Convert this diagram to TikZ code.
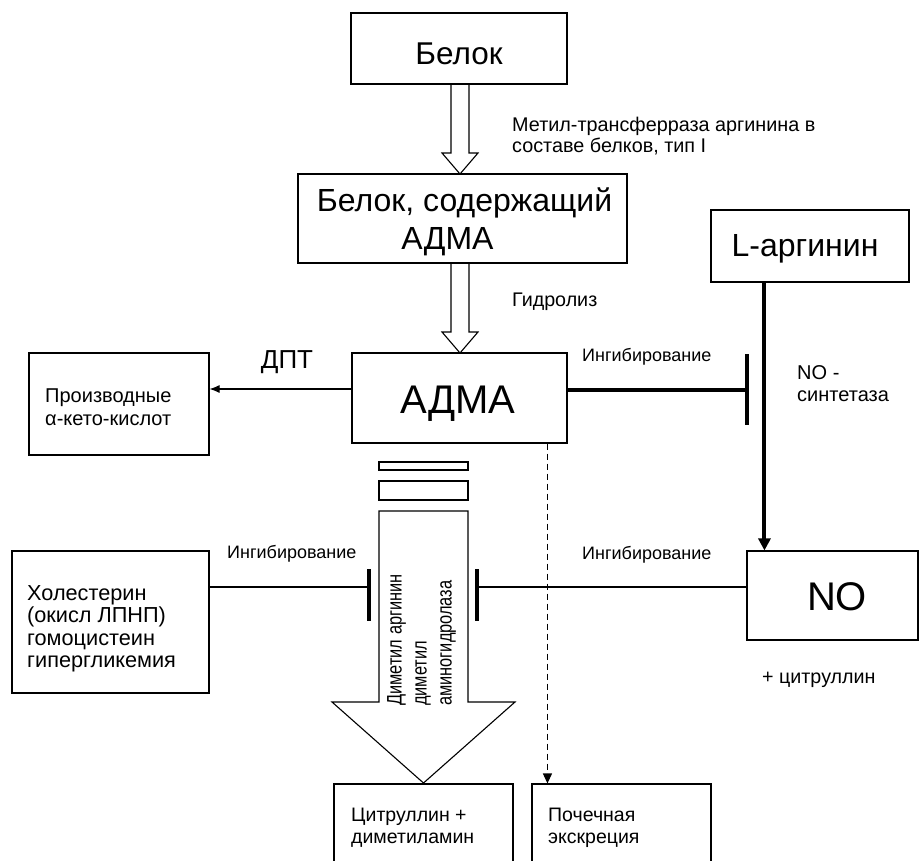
\documentclass[tikz,border=0pt]{standalone}
\usepackage{fontspec}
\setmainfont{Liberation Sans}
\newfontfamily\vertfont[FakeStretch=0.78]{Liberation Sans}
\usetikzlibrary{arrows.meta,calc}
\newcommand\myfs[2]{\fontsize{#1}{#2}\selectfont}
\begin{document}
\begin{tikzpicture}[x=1pt,y=-1pt,
  box/.style={draw, line width=1.1pt, inner sep=0pt, text depth=0pt},
  lbl/.style={inner sep=0pt, align=left, anchor=west, text depth=0pt},
  captext/.style={inner sep=0pt, text depth=0pt},
  thinline/.style={line width=1.1pt},
  barline/.style={line width=4pt},
  smalltext/.style={font=\myfs{19.8}{20.5}},
  tinytext/.style={font=\myfs{18}{20}}]
\useasboundingbox (0,0) rectangle (920,861);
\clip (0,0) rectangle (920,861);

% boxes
\node[box, minimum width=216pt, minimum height=71pt] (belok) at (459,48.5) {};
\node[box, minimum width=329pt, minimum height=89pt] (bsod) at (462.5,218.5) {};
\node[box, minimum width=198pt, minimum height=72pt] (larg) at (810,246) {};
\node[box, minimum width=215pt, minimum height=90pt] (adma) at (459.5,398) {};
\node[box, minimum width=180pt, minimum height=102pt] (proizv) at (119,404) {};
\node[box, minimum width=197pt, minimum height=142pt] (chol) at (110.5,622) {};
\node[box, minimum width=171pt, minimum height=89pt] (no) at (832.5,595.5) {};
\node[box, minimum width=179pt, minimum height=116pt] (citr) at (423.5,842) {};
\node[box, minimum width=179pt, minimum height=116pt] (poch) at (621.5,842) {};

% box texts
\node[captext, font=\myfs{31.5}{36}] (tbelok) at (459,54) {Белок};
\node[captext, align=center, font=\myfs{32}{38}] (tbsod) at (464.5,219) {Белок, содержащий\\АДМА\kern34pt\null};
\node[captext, font=\myfs{32}{36}] (tlarg) at (805,245) {L-аргинин};
\node[captext, font=\myfs{40}{48}] (tadma) at (458,400) {АДМА};
\node[captext, font=\myfs{40}{48}] (tno) at (837,597) {NO};
\node[lbl, font=\myfs{20}{23}] (tproizv) at (45,407) {Производные\\α-кето-кислот};
\node[lbl, font=\myfs{21.7}{22.3}] (tchol) at (27,626.5) {Холестерин\\(окисл ЛПНП)\\гомоцистеин\\гипергликемия};
\node[lbl, font=\myfs{19.5}{22}] (tcitr) at (351,826) {Цитруллин +\\диметиламин};
\node[lbl, font=\myfs{19.5}{22}] (tpoch) at (548,826) {Почечная\\экскреция};

% labels
\node[lbl, smalltext] (tmet) at (512,135) {Метил-трансферраза аргинина в\\составе белков, тип I};
\node[lbl, font=\myfs{19.7}{22}] (tgid) at (512,300) {Гидролиз};
\node[captext, font=\myfs{26}{30}] (tdpt) at (287,360) {ДПТ};
\node[lbl, tinytext] (tinh1) at (582,355) {Ингибирование};
\node[lbl, tinytext] (tinh2) at (227,552) {Ингибирование};
\node[lbl, tinytext] (tinh3) at (582,553) {Ингибирование};
\node[lbl, font=\myfs{20}{22}] (tnos) at (797,384) {NO -\\синтетаза};
\node[lbl, font=\myfs{19.7}{22}] (tcit2) at (762,678) {+ цитруллин};

% hollow arrows
\draw[thinline] (451,84) -- (451,153) -- (442,153) -- (460,174) -- (478,153) -- (469,153) -- (469,84);
\draw[thinline] (451,263) -- (451,332) -- (442,332) -- (460,353) -- (478,332) -- (469,332) -- (469,263);

% small rectangles and big arrow
\draw[thinline] (379,462) rectangle (468,470);
\draw[thinline] (379,481) rectangle (468,500);
\draw[thinline] (379,511) -- (468,511) -- (468,702) -- (515,702) -- (423.5,783) -- (332,702) -- (379,702) -- cycle;
\node[rotate=90, anchor=north west, inner sep=0pt, align=left, font=\vertfont\myfs{21}{25}] (enz) at (387,706) {Диметил аргинин\\диметил\\аминогидролаза};

% ДПТ arrow
\draw[thinline, -{Latex[length=10pt,width=8pt]}] ($(adma.west)+(0,-9)$) -- ($(proizv.east)+(0,-15)$);

% upper inhibition
\coordinate (inh1) at (747,390);
\draw[line width=3.5pt] ($(adma.east)+(0,-8)$) -- (inh1);
\draw[barline] ($(inh1)+(0,-36)$) -- ($(inh1)+(0,35)$);

% L-arginine to NO
\path (larg.south west) ++(54,0) coordinate (lsrc);
\draw[line width=4pt, -{Triangle[length=12pt,width=12pt]}] (lsrc) -- (lsrc |- no.north);

% dashed excretion
\path (adma.south west) ++(196,0) coordinate (dsrc);
\draw[thinline, dash pattern=on 6pt off 4pt, -{Triangle[length=10pt,width=9pt]}] (dsrc) -- (dsrc |- poch.north);

% lower inhibitions
\coordinate (inh2) at (369,587);
\coordinate (inh3) at (477,587);
\draw[thinline] (chol.east |- inh2) -- (inh2);
\draw[barline] ($(inh2)+(0,-18)$) -- ($(inh2)+(0,34)$);
\draw[thinline] (no.west |- inh3) -- (inh3);
\draw[barline] ($(inh3)+(0,-18)$) -- ($(inh3)+(0,34)$);
\end{tikzpicture}
\end{document}
